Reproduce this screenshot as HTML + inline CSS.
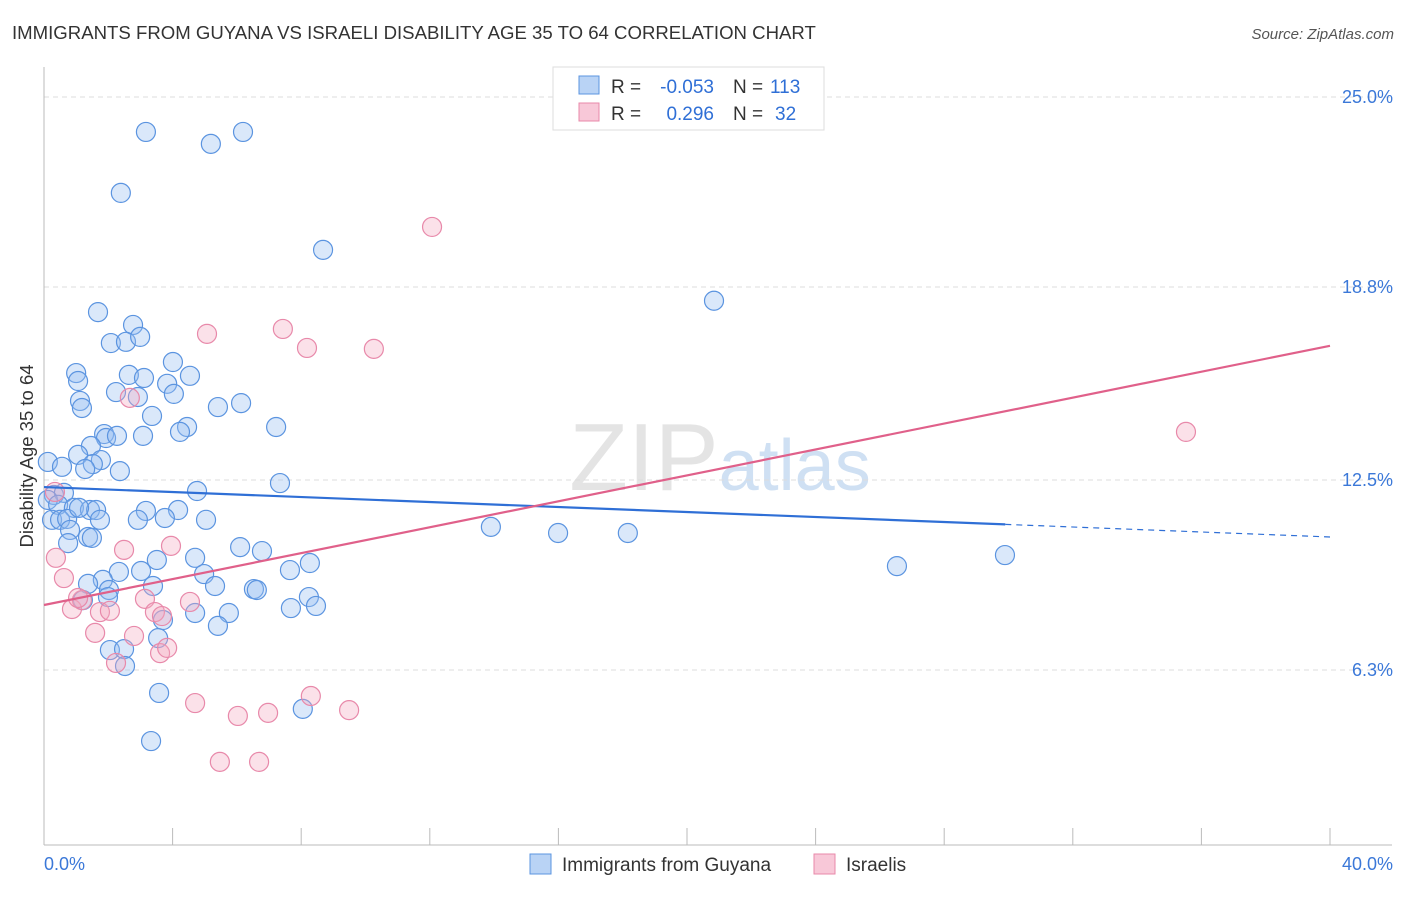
<!DOCTYPE html>
<html><head><meta charset="utf-8"><style>
body{margin:0;background:#fff;font-family:"Liberation Sans",sans-serif}
svg text{font-family:"Liberation Sans",sans-serif}
</style></head><body>
<svg id="chart" width="1406" height="892" xmlns="http://www.w3.org/2000/svg">
<text x="12" y="39" font-size="18.6" fill="#333">IMMIGRANTS FROM GUYANA VS ISRAELI DISABILITY AGE 35 TO 64 CORRELATION CHART</text>
<text x="1394" y="39" font-size="15" fill="#555" text-anchor="end" font-style="italic">Source: ZipAtlas.com</text>
<text x="720" y="490" font-size="96" fill="#e4e4e4" text-anchor="middle" font-family="Liberation Serif">ZIP<tspan fill="#cfe0f3" font-family="Liberation Sans" font-size="72">atlas</tspan></text>
<g id="grid"></g><g id="axes"></g><g id="pts"></g><g id="lines"></g>
<text transform="translate(33,456) rotate(-90)" font-size="18.5" fill="#333" text-anchor="middle">Disability Age 35 to 64</text>
<g>
<rect x="553" y="67" width="271" height="63" fill="#fff" stroke="#ddd"/>
<rect x="579" y="76" width="20" height="18" fill="#b9d3f5" stroke="#5b94e0"/>
<rect x="579" y="103" width="20" height="18" fill="#f8c8d8" stroke="#e889aa"/>
<text x="611" y="93" font-size="19" fill="#333">R =</text>
<text x="714" y="93" font-size="19" fill="#2f6fd6" text-anchor="end">-0.053</text>
<text x="733" y="93" font-size="19" fill="#333">N =</text>
<text x="770" y="93" font-size="19" fill="#2f6fd6">113</text>
<text x="611" y="120" font-size="19" fill="#333">R =</text>
<text x="714" y="120" font-size="19" fill="#2f6fd6" text-anchor="end">0.296</text>
<text x="733" y="120" font-size="19" fill="#333">N =</text>
<text x="775" y="120" font-size="19" fill="#2f6fd6">32</text>
</g>
<g>
<rect x="530" y="854" width="21" height="20" fill="#b9d3f5" stroke="#5b94e0"/>
<text x="562" y="871" font-size="19" fill="#333">Immigrants from Guyana</text>
<rect x="814" y="854" width="21" height="20" fill="#f8c8d8" stroke="#e889aa"/>
<text x="846" y="871" font-size="19" fill="#333">Israelis</text>
</g>
</svg>
<script>
const yTicks=[25.0,18.8,12.5,6.3];
const yTickLabels=["25.0%","18.8%","12.5%","6.3%"];
const xTickLabels=["0.0%","40.0%"];
const blueX=[3.17,5.19,6.19,2.39,8.68,20.84,1.68,2.77,2.08,2.55,2.99,4.01,1.00,2.64,1.06,3.11,4.54,3.83,2.24,2.92,4.04,1.12,1.18,3.36,5.41,6.13,7.22,4.45,4.23,1.87,1.93,3.08,2.27,1.46,1.06,1.77,1.52,2.36,1.28,0.12,0.56,7.34,4.76,0.31,0.62,0.12,0.44,0.93,1.43,1.62,1.74,0.25,0.50,0.72,1.09,0.81,1.37,1.49,3.17,4.17,5.04,3.76,2.92,13.90,15.99,18.16,0.75,6.10,6.78,3.51,4.70,3.02,2.33,4.98,1.83,1.37,3.39,5.32,6.53,6.62,7.65,8.27,2.02,1.99,1.21,8.24,8.46,7.68,4.70,5.75,3.70,3.55,5.41,2.05,2.49,2.52,3.58,8.05,3.33,26.53,29.89];
const blueY=[23.86,23.47,23.86,21.87,20.01,18.35,17.98,17.56,16.97,17.01,17.17,16.35,15.99,15.93,15.73,15.83,15.90,15.64,15.37,15.21,15.31,15.08,14.85,14.59,14.88,15.01,14.23,14.23,14.07,14.00,13.87,13.94,13.94,13.61,13.32,13.15,13.02,12.79,12.86,13.09,12.93,12.40,12.14,12.01,12.08,11.85,11.69,11.59,11.52,11.52,11.20,11.20,11.20,11.23,11.59,10.87,10.64,10.61,11.49,11.52,11.20,11.26,11.20,10.97,10.77,10.77,10.44,10.31,10.18,9.89,9.96,9.53,9.50,9.43,9.24,9.11,9.04,9.04,8.94,8.91,9.56,9.79,8.91,8.68,8.58,8.68,8.39,8.32,8.16,8.16,7.93,7.34,7.74,6.95,6.98,6.43,5.55,5.03,3.98,9.69,10.05];
const pinkX=[12.07,5.07,7.43,8.18,10.26,35.52,2.67,0.34,0.37,0.62,2.49,0.87,1.18,1.74,2.05,1.06,1.59,3.14,3.45,3.67,3.95,4.54,2.80,3.61,3.83,2.24,4.70,6.03,6.97,8.30,9.49,5.47,6.69];
const pinkY=[20.76,17.27,17.43,16.81,16.78,14.07,15.18,12.11,9.96,9.30,10.22,8.29,8.58,8.19,8.23,8.65,7.51,8.62,8.19,8.06,10.35,8.52,7.41,6.85,7.02,6.53,5.22,4.80,4.90,5.45,4.99,3.30,3.30];
const blueTrend=[12.27,10.64];
const blueSolidEnd=29.9;
const pinkTrend=[8.42,16.88];
const X0=44,X1=1330,XMAX=40;
function sx(v){return X0+(X1-X0)*v/XMAX;}
function sy(v){return 863-v*30.64;}
const NS="http://www.w3.org/2000/svg";
function mk(tag,attrs,parent){const e=document.createElementNS(NS,tag);for(const k in attrs)e.setAttribute(k,attrs[k]);document.getElementById(parent).appendChild(e);return e;}
yTicks.forEach((t,i)=>{
  const g=mk('line',{x1:X0,x2:1392,y1:sy(t),y2:sy(t),stroke:'#ddd','stroke-dasharray':'5,4'},'grid');
  
  
  const l=mk('text',{x:1393,y:sy(t)+6,'font-size':18,fill:'#3b78d8','text-anchor':'end'},'grid');
  l.textContent=yTickLabels[i];
  
  
});
let a=mk('line',{x1:X0,x2:X0,y1:67,y2:845,stroke:'#bbb'},'axes');


a=mk('line',{x1:X0,x2:1392,y1:845,y2:845,stroke:'#bbb'},'axes');


for(let i=0;i<=10;i++){
  const t=mk('line',{x1:sx(i*4),x2:sx(i*4),y1:828,y2:845,stroke:'#bbb'},'axes');
  
  
}
let xl=mk('text',{x:44,y:870,'font-size':18,fill:'#3b78d8'},'axes');
xl.textContent=xTickLabels[0];


xl=mk('text',{x:1393,y:870,'font-size':18,fill:'#3b78d8','text-anchor':'end'},'axes');
xl.textContent=xTickLabels[1];


blueX.forEach((x,i)=>{
  const c=mk('circle',{cx:sx(x),cy:sy(blueY[i]),r:9.5,fill:'rgba(150,190,240,0.35)',stroke:'#5b94e0','stroke-width':1.2},'pts');
  
  
});
pinkX.forEach((x,i)=>{
  const c=mk('circle',{cx:sx(x),cy:sy(pinkY[i]),r:9.5,fill:'rgba(244,168,192,0.35)',stroke:'#e889aa','stroke-width':1.2},'pts');
  
  
});
function by(x){return blueTrend[0]+(blueTrend[1]-blueTrend[0])*x/XMAX;}
let tl=mk('line',{x1:sx(0),y1:sy(by(0)),x2:sx(blueSolidEnd),y2:sy(by(blueSolidEnd)),stroke:'#2f6fd6','stroke-width':2.2},'lines');


tl=mk('line',{x1:sx(blueSolidEnd),y1:sy(by(blueSolidEnd)),x2:sx(40),y2:sy(by(40)),stroke:'#2f6fd6','stroke-width':1.2,'stroke-dasharray':'6,5'},'lines');


tl=mk('line',{x1:sx(0),y1:sy(pinkTrend[0]),x2:sx(40),y2:sy(pinkTrend[1]),stroke:'#e0608a','stroke-width':2.2},'lines');


</script>
</body></html>
